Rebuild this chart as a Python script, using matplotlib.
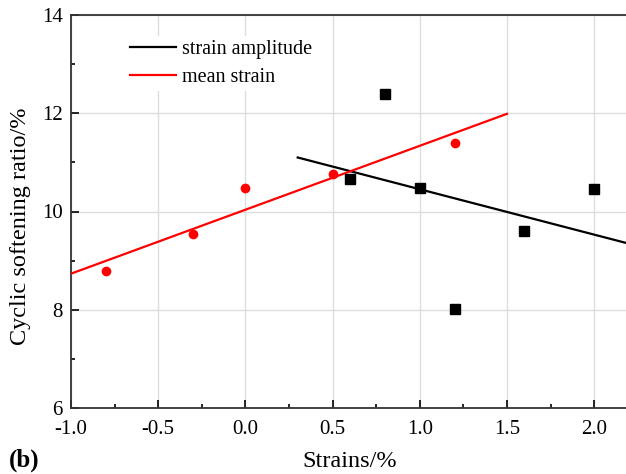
import numpy as np
import matplotlib.pyplot as plt

plt.rcParams['font.family'] = ['Liberation Serif', 'DejaVu Serif']

# strain amplitude series
amp_x = [0.6, 0.8, 1.0, 1.2, 1.6, 2.0]
amp_y = [10.67, 12.40, 10.47, 8.02, 9.60, 10.45]
# mean strain series
mean_x = [-0.8, -0.3, 0.0, 0.5, 1.2]
mean_y = [8.78, 9.55, 10.47, 10.76, 11.40]

fig = plt.figure(figsize=(6.26, 4.74), dpi=100)
ax = fig.add_axes([71/626, 66/474, 558/626, 393/474])

# linear fits
ka, ba = np.polyfit(amp_x, amp_y, 1)
km, bm = np.polyfit(mean_x, mean_y, 1)
xa = np.array([0.3, 2.2])
xm = np.array([-1.0, 1.5])

ax.plot(xa, ka*xa + ba, color='black', lw=1.6, label='strain amplitude', zorder=3)
ax.plot(xm, km*xm + bm, color='red', lw=1.6, label='mean strain', zorder=3)
ax.plot(amp_x, amp_y, 's', color='black', ms=6.5, zorder=4)
ax.plot(mean_x, mean_y, 'o', color='red', ms=7, mec='none', zorder=4)

ax.set_xlim(-1.0, 2.2)
ax.set_ylim(6, 14)
xt = np.arange(-1.0, 2.01, 0.5)
ax.set_xticks(xt)
ax.set_xticklabels([f'{v:.1f}' for v in xt])
ax.set_xticks(np.arange(-1.0, 2.2, 0.25), minor=True)
ax.set_yticks(np.arange(6, 14.1, 2))
ax.set_yticks(np.arange(7, 14, 2), minor=True)
ax.tick_params(which='both', direction='in', labelsize=15, width=1.2)
ax.tick_params(which='major', length=6)
ax.tick_params(which='minor', length=3)
ax.tick_params(axis='x', pad=9)
ax.tick_params(axis='y', pad=6)
ax.grid(True, which='major', color='#dddddd', lw=1, zorder=0)
ax.set_axisbelow(True)
for s in ax.spines.values():
    s.set_linewidth(1.3)
    s.set_color('#333333')

ax.set_xlabel('Strains/%', fontsize=17.5)
ax.xaxis.set_label_coords(0.5, -0.11)
ax.set_ylabel('Cyclic softening ratio/%', fontsize=17.5)
ax.yaxis.set_label_coords(-0.072, 0.463)

leg = ax.legend(loc='upper left', bbox_to_anchor=(0.08, 0.972), frameon=True,
                fontsize=14.5, handlelength=2.3, handletextpad=0.3,
                labelspacing=0.45, borderpad=0.2)
leg.get_frame().set_edgecolor('none')
leg.get_frame().set_facecolor('white')
leg.get_frame().set_alpha(1)

fig.text(9/626, 1 - 460/474, '(b)', fontsize=18, fontweight='bold', va='center')

fig.savefig('out.png', dpi=100)
